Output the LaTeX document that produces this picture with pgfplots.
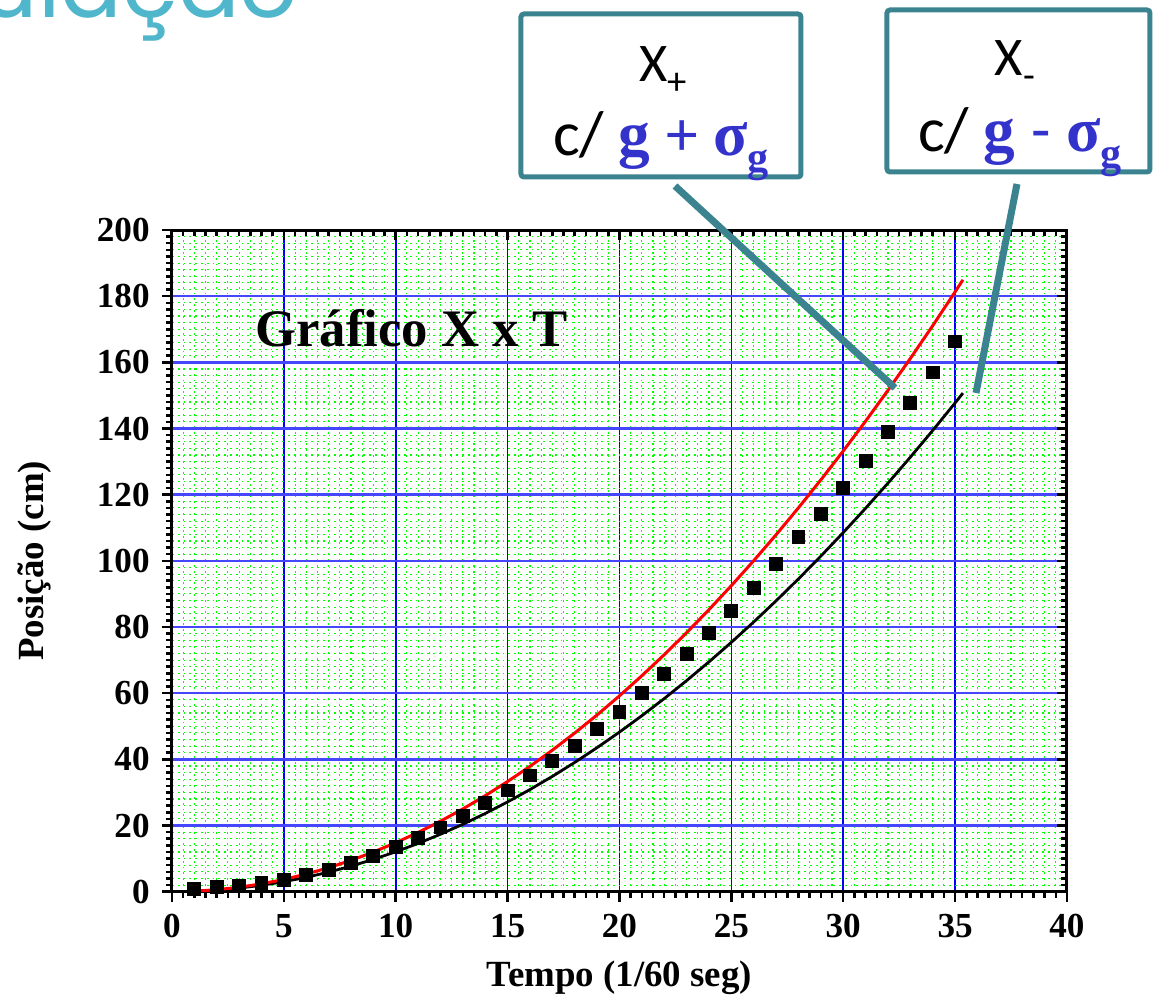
\documentclass[border=0pt]{standalone}
\usepackage{pgfplots}
\pgfplotsset{compat=1.18}
\usepackage{fontspec}
\setmainfont{Liberation Serif}
\newfontfamily\calibri{Carlito}
\newfontfamily\popfont{Poppins}
\definecolor{boxteal}{RGB}{58,131,143}
\definecolor{titleteal}{RGB}{80,182,203}
\definecolor{symblue}{RGB}{51,51,204}
\definecolor{gridgreen}{RGB}{0,255,0}
\definecolor{gridblue}{RGB}{70,70,255}

% measured positions (t in 1/60 s, x in cm)
\pgfplotstableread{
t x
1 0.8
2 1.3
3 1.8
4 2.6
5 3.6
6 5.0
7 6.6
8 8.6
9 10.8
10 13.4
11 16.3
12 19.4
13 22.9
14 26.7
15 30.6
16 35.1
17 39.4
18 44.0
19 49.1
20 54.4
21 60.0
22 65.7
23 71.8
24 78.3
25 84.9
26 91.9
27 99.1
28 107.1
29 114.2
30 122.1
31 130.3
32 138.9
33 147.8
34 156.9
35 166.3
}\medidas

% model curves: x+ with g + sigma_g, x- with g - sigma_g
\pgfplotstableread{
t xp xm
1 0.148 0.121
2 0.592 0.482
3 1.332 1.085
4 2.368 1.930
5 3.700 3.015
6 5.328 4.342
7 7.252 5.909
8 9.472 7.718
9 11.988 9.769
10 14.800 12.060
11 17.908 14.593
12 21.312 17.366
13 25.012 20.381
14 29.008 23.638
15 33.300 27.135
16 37.888 30.874
17 42.772 34.853
18 47.952 39.074
19 53.428 43.537
20 59.200 48.240
21 65.268 53.185
22 71.632 58.370
23 78.292 63.797
24 85.248 69.466
25 92.500 75.375
26 100.048 81.526
27 107.892 87.917
28 116.032 94.550
29 124.468 101.425
30 133.200 108.540
31 142.228 115.897
32 151.552 123.494
33 161.172 131.333
34 171.088 139.414
35 181.300 147.735
35.35 184.940 150.700
}\modelos

\begin{document}
\begin{tikzpicture}[x=0.1mm,y=0.1mm]
\useasboundingbox (0,0) rectangle (1155,998);

% slide heading, partly off the top of the frame
\begin{scope}
\clip (0,0) rectangle (1155,998);
\node[anchor=base east, inner sep=0, text=titleteal,
      font=\popfont\fontsize{26}{30}\selectfont] at (299,980) {Simulação};
\end{scope}

\begin{axis}[
  at={(17.2mm,10.63mm)}, anchor=south west,
  scale only axis, width=89.5mm, height=66.17mm,
  xmin=0, xmax=40, ymin=0, ymax=200,
  xtick={0,5,...,40}, ytick={0,20,...,200},
  minor x tick num=9, minor y tick num=9,
  grid=both,
  minor grid style={gridgreen, line width=0.11mm, dash pattern=on 0.18mm off 0.4mm},
  major grid style={blue, line width=0.17mm, solid},
  major y grid style={gridblue, line width=0.26mm, solid},
  axis line style={line width=0.3mm},
  tick align=outside,
  xtick pos=left, ytick pos=left,
  major tick length=1.0mm, minor tick length=0.6mm,
  tick style={black, line width=0.25mm},
  /pgf/number format/assume math mode=true,
  ticklabel style={font=\bfseries\fontsize{10}{12}\selectfont},
  xlabel={Tempo (1/60 seg)}, ylabel={Posição (cm)},
  label style={font=\bfseries\fontsize{10.5}{12}\selectfont},
  xlabel style={at={(axis description cs:0.5,-0.13)}, anchor=center},
  ylabel style={at={(axis description cs:-0.153,0.5)}, anchor=center},
  clip=false,
]
\addplot[black, line width=0.28mm] table[x=t, y=xm] {\modelos};
\addplot[red, line width=0.3mm] table[x=t, y=xp] {\modelos};
\addplot[only marks, mark=square*, mark size=0.62mm, black] table[x=t, y=x] {\medidas};
\node[anchor=base west, inner sep=0, font=\bfseries\fontsize{15}{18}\selectfont]
  at (axis cs:3.7,164.7) {Gráfico X x T};
\end{axis}

% inward ticks on the top and right edges
\begin{axis}[
  at={(17.2mm,10.63mm)}, anchor=south west,
  scale only axis, width=89.5mm, height=66.17mm,
  xmin=0, xmax=40, ymin=0, ymax=200,
  xtick={0,5,...,40}, ytick={0,20,...,200},
  minor x tick num=9, minor y tick num=9,
  xticklabels={}, yticklabels={},
  axis line style={draw=none},
  tick align=inside,
  xtick pos=right, ytick pos=right,
  major tick length=1.0mm, minor tick length=0.6mm,
  tick style={black, line width=0.25mm},
]
\addplot[draw=none] coordinates {(0,0)};
\end{axis}

% callout boxes
\draw[boxteal, line width=0.5mm, rounded corners=0.3mm] (521,984) rectangle (801,821);
\draw[boxteal, line width=0.5mm, rounded corners=0.3mm] (887,988) rectangle (1150,826);

\node[anchor=base, inner sep=0, font=\calibri\fontsize{15.5}{18}\selectfont] at (663,916)
  {X\raisebox{-1.3mm}{\fontsize{11}{13}\selectfont +}};
\node[anchor=base, inner sep=0] at (661,842)
  {{\calibri\fontsize{18}{21}\selectfont c/ }\textcolor{symblue}{\bfseries\fontsize{18}{21}\selectfont g {\calibri\mdseries +} σ\raisebox{-1.6mm}{\fontsize{12}{14}\selectfont g}}};

\node[anchor=base, inner sep=0, font=\calibri\fontsize{15.5}{18}\selectfont] at (1015,922)
  {X\raisebox{-1.3mm}{\fontsize{11}{13}\selectfont -}};
\node[anchor=base, inner sep=0] at (1020,846)
  {{\calibri\fontsize{18}{21}\selectfont c/ }\textcolor{symblue}{\bfseries\fontsize{18}{21}\selectfont g {\calibri\mdseries -} σ\raisebox{-1.6mm}{\fontsize{12}{14}\selectfont g}}};

% pointers from the boxes to the curves
\draw[boxteal, line width=0.7mm] (675,812) -- (895,610);
\draw[boxteal, line width=0.7mm] (1017,814) -- (976,605);
\end{tikzpicture}
\end{document}
